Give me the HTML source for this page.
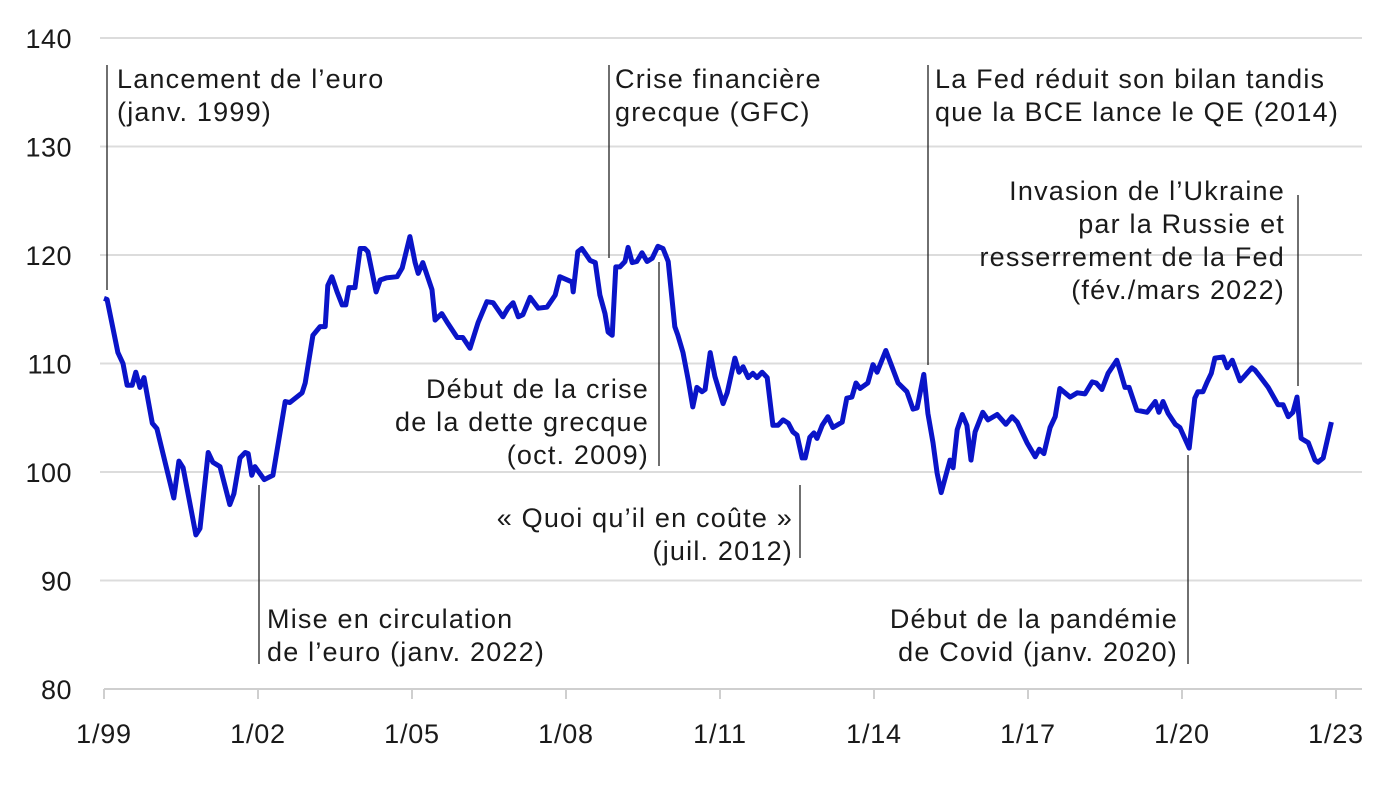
<!DOCTYPE html>
<html><head><meta charset="utf-8"><style>
body{margin:0;background:#fff;width:1387px;height:780px;overflow:hidden}
svg text{font-family:"Liberation Sans",sans-serif;fill:#1a1a1a}
</style></head><body>
<svg id="chart" width="1387" height="780" xmlns="http://www.w3.org/2000/svg">
<g id="grid"></g>
<g id="yax"></g>
<g id="xax"></g>
<g id="ann"></g>
<path id="line" fill="none" stroke="#0a14c8" stroke-width="5" stroke-linejoin="round"/>
</svg>
<script>
const yTicks=[80,90,100,110,120,130,140];
const xTickYears=[0,3,6,9,12,15,18,21,24];
const xTickLabels=["1/99","1/02","1/05","1/08","1/11","1/14","1/17","1/20","1/23"];
const tYears=[0,.06,.27,.37,.45,.55,.62,.70,.78,.94,1.03,1.36,1.46,1.54,1.79,1.87,2.03,2.12,2.26,2.45,2.53,2.65,2.75,2.81,2.88,2.94,3.12,3.29,3.53,3.62,3.86,3.92,4.07,4.21,4.31,4.36,4.44,4.54,4.64,4.71,4.77,4.89,4.99,5.08,5.14,5.30,5.38,5.51,5.71,5.81,5.96,6.06,6.12,6.21,6.39,6.45,6.58,6.70,6.88,6.99,7.13,7.29,7.46,7.58,7.77,7.87,7.97,8.07,8.16,8.30,8.46,8.63,8.79,8.88,9.12,9.14,9.23,9.31,9.47,9.57,9.66,9.76,9.82,9.90,9.97,10.05,10.15,10.21,10.29,10.38,10.48,10.58,10.68,10.79,10.89,10.99,11.12,11.18,11.28,11.38,11.47,11.55,11.65,11.71,11.81,11.90,12.06,12.14,12.29,12.37,12.45,12.55,12.64,12.72,12.82,12.92,13.03,13.13,13.23,13.33,13.42,13.50,13.60,13.66,13.75,13.83,13.89,13.99,14.10,14.20,14.38,14.47,14.57,14.65,14.73,14.88,14.98,15.06,15.23,15.35,15.47,15.64,15.76,15.84,15.97,16.05,16.15,16.23,16.31,16.48,16.54,16.62,16.72,16.81,16.89,16.97,17.12,17.22,17.40,17.57,17.69,17.79,17.98,18.14,18.22,18.31,18.43,18.53,18.62,18.82,18.96,19.11,19.25,19.33,19.44,19.56,19.73,19.79,19.89,19.97,20.12,20.32,20.48,20.55,20.63,20.73,20.87,20.96,21.14,21.25,21.31,21.41,21.49,21.57,21.64,21.80,21.88,21.98,22.13,22.23,22.36,22.42,22.52,22.68,22.87,22.97,23.07,23.16,23.24,23.32,23.46,23.59,23.65,23.75,23.91];
const values=[116,115.9,111,110,108,108,109.2,107.8,108.7,104.5,104,97.6,101,100.4,94.2,94.8,101.8,100.9,100.5,97,98,101.3,101.8,101.7,99.7,100.5,99.3,99.7,106.5,106.4,107.3,108.2,112.6,113.4,113.4,117.2,118,116.6,115.4,115.4,117,117,120.6,120.6,120.3,116.6,117.7,117.9,118,118.8,121.7,119.3,118.3,119.3,116.8,114,114.6,113.7,112.4,112.4,111.4,113.8,115.7,115.6,114.3,115.1,115.6,114.3,114.5,116.1,115.1,115.2,116.3,118,117.5,116.6,120.3,120.6,119.5,119.3,116.3,114.6,112.9,112.6,118.9,118.9,119.4,120.7,119.3,119.4,120.2,119.4,119.7,120.8,120.6,119.4,113.4,112.6,111,108.5,106,107.8,107.4,107.6,111,108.8,106.3,107.3,110.5,109.2,109.7,108.7,109.1,108.7,109.2,108.7,104.3,104.3,104.8,104.5,103.7,103.4,101.3,101.3,103.2,103.6,103.1,104.3,105.1,104.1,104.6,106.8,106.9,108.2,107.7,108.2,109.9,109.2,111.2,109.7,108.2,107.4,105.8,105.9,109,105.4,102.7,99.9,98.1,101.1,100.4,103.9,105.3,104.3,101.1,103.7,105.5,104.8,105.3,104.4,105.1,104.6,102.7,101.4,102.1,101.7,104.1,105.1,107.7,106.9,107.3,107.2,108.3,108.2,107.6,109.1,110.3,109.4,107.8,107.8,105.7,105.5,106.5,105.5,106.5,105.4,104.4,104.1,102.2,106.8,107.4,107.4,108.3,109.1,110.5,110.6,109.6,110.3,108.4,108.9,109.6,109.4,108.8,107.8,106.2,106.2,105.1,105.5,106.9,103.1,102.7,101.1,100.9,101.3,104.6];
const NS="http://www.w3.org/2000/svg";
const X=t=>104+t*(1336-104)/24;
const Y=v=>689-(v-80)*(689-38)/60;
function mk(tag,attrs,parent,txt){const e=document.createElementNS(NS,tag);for(const k in attrs)e.setAttribute(k,attrs[k]);if(txt!==undefined)e.textContent=txt;parent.appendChild(e);return e;}
const grid=document.getElementById('grid'),yax=document.getElementById('yax'),xax=document.getElementById('xax'),ann=document.getElementById('ann');
yTicks.forEach(v=>{
 const l=mk('line',{x1:v===80?104:100,x2:1362,y1:Y(v),y2:Y(v),stroke:v===80?'#cfcfcf':'#dcdcdc','stroke-width':2},grid);
 
 
 const t=mk('text',{x:72,y:Y(v)+10,'text-anchor':'end','font-size':27,'letter-spacing':0.5},yax,String(v));
 
 
});
xTickYears.forEach((yr,i)=>{
 const tk=mk('line',{x1:X(yr),x2:X(yr),y1:689,y2:699,stroke:'#cfcfcf','stroke-width':2},xax);
 
 
 const t=mk('text',{x:X(yr),y:743,'text-anchor':'middle','font-size':27,'letter-spacing':0.8},xax,xTickLabels[i]);
 
 
});
document.getElementById('line').setAttribute('d',tYears.map((t,i)=>(i?'L':'M')+X(t).toFixed(1)+','+Y(values[i]).toFixed(1)).join(''));
const notes=[
 {n:'euro-launch-note',lx:107,y1:65,y2:290,tx:117,anchor:'start',lines:["Lancement de l’euro","(janv. 1999)"],by:88},
 {n:'gfc-note',lx:609,y1:65,y2:258,tx:615,anchor:'start',lines:["Crise financière","grecque (GFC)"],by:88},
 {n:'fed-qe-note',lx:928,y1:65,y2:365,tx:935,anchor:'start',lines:["La Fed réduit son bilan tandis","que la BCE lance le QE (2014)"],by:88},
 {n:'ukraine-note',lx:1298,y1:195,y2:386,tx:1285,anchor:'end',lines:["Invasion de l’Ukraine","par la Russie et","resserrement de la Fed","(fév./mars 2022)"],by:200},
 {n:'greek-debt-note',lx:659,y1:262,y2:466,tx:649,anchor:'end',lines:["Début de la crise","de la dette grecque","(oct. 2009)"],by:398},
 {n:'whatever-it-takes-note',lx:800,y1:485,y2:558,tx:793,anchor:'end',lines:["« Quoi qu’il en coûte »","(juil. 2012)"],by:527},
 {n:'euro-circulation-note',lx:259,y1:485,y2:664,tx:267,anchor:'start',lines:["Mise en circulation","de l’euro (janv. 2022)"],by:628},
 {n:'covid-note',lx:1188,y1:455,y2:664,tx:1178,anchor:'end',lines:["Début de la pandémie","de Covid (janv. 2020)"],by:628}
];
notes.forEach(a=>{
 const g=mk('g',{},ann);
 
 
 mk('line',{x1:a.lx,x2:a.lx,y1:a.y1,y2:a.y2,stroke:'#222','stroke-width':1.3},g);
 a.lines.forEach((s,i)=>mk('text',{x:a.tx,y:a.by+i*33,'text-anchor':a.anchor,'font-size':27,'letter-spacing':1.2},g,s));
});
</script>
</body></html>
